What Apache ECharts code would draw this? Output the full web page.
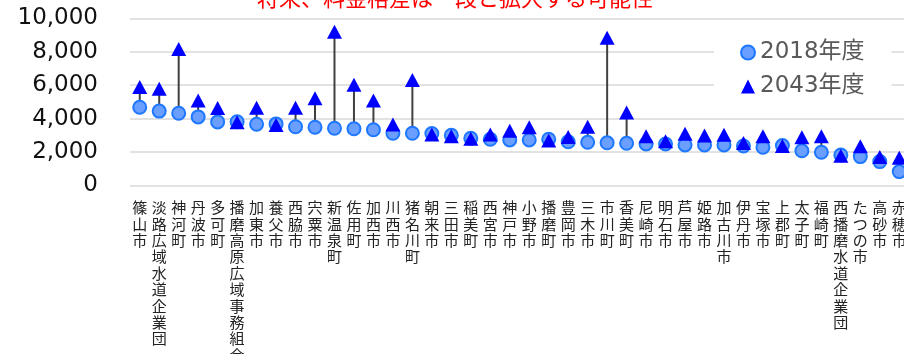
<!DOCTYPE html>
<html><head><meta charset="utf-8">
<script src="https://cdn.jsdelivr.net/npm/echarts@6/dist/echarts.min.js"></script>
<style>html,body{margin:0;padding:0;background:#fff}#c{width:904px;height:354px}</style>
</head><body><div id="c"></div>
<script>
var categories = ['篠山市','淡路広域水道企業団','神河町','丹波市','多可町','播磨高原広域事務組合','加東市','養父市','西脇市','宍粟市','新温泉町','佐用町','加西市','川西市','猪名川町','朝来市','三田市','稲美町','西宮市','神戸市','小野市','播磨町','豊岡市','三木市','市川町','香美町','尼崎市','明石市','芦屋市','姫路市','加古川市','伊丹市','宝塚市','上郡町','太子町','福崎町','西播磨水道企業団','たつの市','高砂市','赤穂市'];
var values2018 = [4680,4450,4320,4100,3800,3810,3660,3680,3510,3480,3420,3390,3330,3120,3120,3100,3000,2820,2760,2720,2720,2760,2610,2580,2550,2520,2480,2480,2420,2420,2420,2360,2280,2380,2070,1980,1820,1720,1420,820];
var values2043 = [5890,5790,8170,5080,4630,3780,4650,3620,4650,5220,9210,6030,5080,3650,6310,3040,2940,2790,3050,3270,3480,2690,2900,3510,8840,4370,2940,2640,3090,2990,3030,2540,2940,2350,2880,2940,1770,2340,1690,1650];
var yTicks = [0,2000,4000,6000,8000,10000];
var seriesNames = ['2018年度','2043年度'];
var titleText = '将来、料金格差は一段と拡大する可能性';

var chart = echarts.init(document.getElementById('c'), null, {renderer:'canvas'});
var rangeData = categories.map(function(c,i){ return [i, values2018[i], values2043[i]]; });
var numFont = 'DejaVu Sans, Noto Sans CJK JP, sans-serif';
chart.setOption({
  animation:false,
  backgroundColor:'#fff',
  title:{text:titleText, left:257, top:-13, padding:0,
    textStyle:{color:'#FF0000', fontSize:22, fontWeight:'normal', fontFamily:'Noto Sans CJK JP'}},
  legend:{orient:'vertical', left:714, top:31, padding:[10,27,10,26], itemGap:11,
    backgroundColor:'#fff', itemWidth:14, itemHeight:14,
    textStyle:{color:'#595959', fontSize:23, fontFamily:numFont},
    data:[{name:seriesNames[0], icon:'circle'},{name:seriesNames[1], icon:'triangle'}]},
  grid:{left:130, right:-5, top:18.5, bottom:168.7, containLabel:false, outerBoundsMode:'none'},
  xAxis:{type:'category', data:categories, boundaryGap:true,
    axisLine:{show:false}, axisTick:{show:false},
    axisLabel:{interval:0, margin:14, color:'#222', fontSize:15, lineHeight:16.4,
      fontFamily:'Noto Sans CJK JP',
      formatter:function(v){return v.split('').join('\n');}}},
  yAxis:{type:'value', min:yTicks[0], max:yTicks[yTicks.length-1], interval:2000,
    axisLine:{show:false}, axisTick:{show:false},
    splitLine:{lineStyle:{color:'#d9d9d9', width:1.5}},
    axisLabel:{margin:32, color:'#111', fontSize:23, fontFamily:numFont,
      formatter:function(v){return v.toLocaleString('en-US');}}},
  series:[
    {type:'custom', name:'hilo', silent:true, z:1,
      data:rangeData, encode:{x:0, y:[1,2]},
      renderItem:function(params, api){
        var p1 = api.coord([api.value(0), api.value(1)]);
        var p2 = api.coord([api.value(0), api.value(2)]);
        return {type:'line', shape:{x1:p1[0], y1:p1[1], x2:p2[0], y2:p2[1]},
          style:{stroke:'#404040', lineWidth:2}};
      }},
    {type:'scatter', name:seriesNames[0], data:values2018, symbol:'circle', symbolSize:13, z:2,
      itemStyle:{color:'#6A9EFF', borderColor:'#1E78FF', borderWidth:2, opacity:1}},
    {type:'scatter', name:seriesNames[1], data:values2043, symbol:'triangle', symbolSize:[15,14], z:3,
      itemStyle:{color:'#0000FF', opacity:1}}
  ]
});
</script></body></html>
